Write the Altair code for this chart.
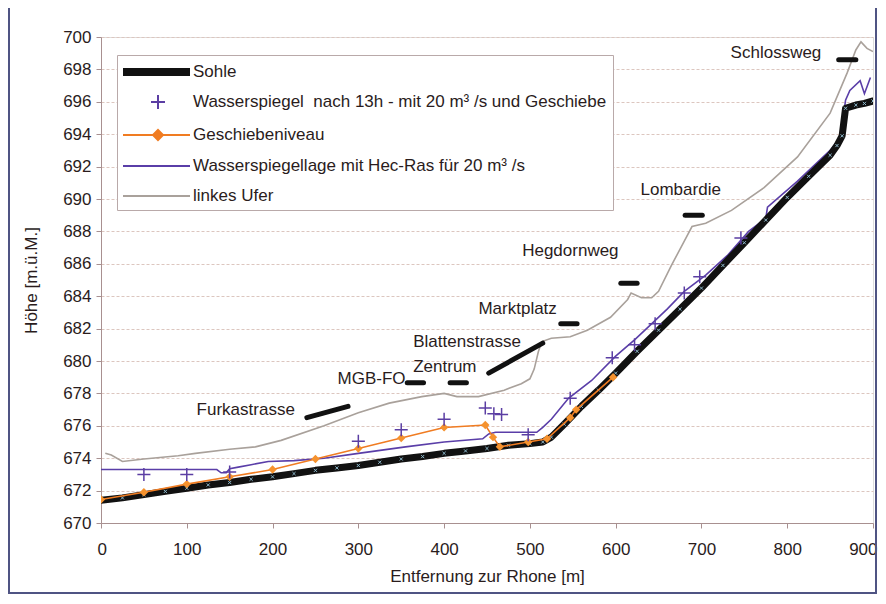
import altair as alt
import pandas as pd

# ---------------- data ----------------
series_names = [
    "Sohle",
    "Wasserspiegel\u00a0 nach 13h - mit 20 m³ /s und Geschiebe",
    "Geschiebeniveau",
    "Wasserspiegellage mit Hec-Ras für 20 m³ /s",
    "linkes Ufer",
]

sohle_x = [0, 25, 50, 75, 100, 125, 150, 175, 200, 225, 250, 275, 300, 325, 350, 375, 400,
           425, 450, 475, 500, 515, 525, 540, 560, 580, 600, 625, 650, 675, 700, 725, 750,
           775, 800, 825, 850, 858, 864, 868, 880, 890, 900]
sohle_y = [671.4, 671.55, 671.75, 671.95, 672.15, 672.35, 672.5, 672.7, 672.85, 673.05, 673.25,
           673.4, 673.55, 673.75, 673.95, 674.1, 674.3, 674.45, 674.6, 674.8, 674.9, 675.0,
           675.3, 676.1, 677.2, 678.2, 679.25, 680.6, 681.9, 683.2, 684.5, 685.9, 687.3,
           688.7, 690.1, 691.4, 692.7, 693.3, 693.9, 695.6, 695.8, 695.9, 696.05]

ws_x = [50, 100, 150, 300, 350, 400, 448, 458, 467, 498, 547, 596, 622, 646, 680, 698, 746]
ws_y = [673.0, 673.0, 673.15, 675.05, 675.75, 676.4, 677.1, 676.75, 676.7, 675.45, 677.7,
        680.2, 681.0, 682.3, 684.2, 685.2, 687.6]

gesch_x = [0, 50, 100, 150, 200, 250, 300, 350, 400, 448, 457, 465, 498, 520, 547, 554, 597]
gesch_y = [671.45, 671.9, 672.4, 672.85, 673.3, 673.95, 674.6, 675.25, 675.9, 676.05, 675.3,
           674.7, 675.0, 675.2, 676.5, 677.0, 679.0]

hec_x = [0, 135, 140, 146, 150, 160, 175, 195, 225, 260, 300, 355, 400, 445, 452, 460, 508,
         515, 525, 545, 572, 600, 622, 640, 660, 680, 705, 730, 755, 775, 777, 812, 850, 862,
         868, 873, 885, 890, 897]
hec_y = [673.3, 673.3, 673.1, 673.1, 673.35, 673.45, 673.6, 673.8, 673.85, 674.0, 674.3,
         674.7, 675.0, 675.2, 675.5, 675.6, 675.6, 675.9, 676.4, 677.7, 678.8, 680.3, 681.3,
         682.2, 683.2, 684.3, 685.3, 686.5, 688.0, 688.8, 689.5, 691.1, 693.0, 693.8, 696.1,
         696.7, 697.3, 696.5, 697.5]

ufer_x = [5, 12, 25, 50, 90, 110, 150, 180, 210, 260, 300, 336, 374, 400, 415, 440, 470, 490,
          500, 505, 510, 514, 525, 547, 567, 594, 614, 618, 630, 642, 650, 665, 680, 689, 705,
          735, 773, 812, 850, 870, 880, 886, 893, 900]
ufer_y = [674.3, 674.2, 673.8, 673.95, 674.15, 674.3, 674.55, 674.7, 675.1, 676.0, 676.8,
          677.4, 677.8, 678.0, 677.8, 677.8, 678.2, 678.6, 678.9, 679.5, 680.6, 681.2, 681.4,
          681.5, 681.9, 682.7, 683.8, 684.2, 683.9, 683.9, 684.3, 685.9, 687.4, 688.3, 688.5,
          689.3, 690.7, 692.6, 695.3, 697.8, 699.2, 699.7, 699.3, 699.1]

# street marks (segments) and their labels
street_names = ["Furkastrasse", "MGB-FO", "Zentrum", "Blattenstrasse", "Marktplatz",
                "Hegdornweg", "Lombardie", "Schlossweg"]
seg_x1 = [240, 357, 407, 452, 536, 606, 681, 860]
seg_x2 = [288, 376, 426, 515, 555, 625, 701, 880]
seg_y1 = [676.5, 678.65, 678.65, 679.25, 682.3, 684.8, 689.0, 698.6]
seg_y2 = [677.2, 678.65, 678.65, 681.1, 682.3, 684.8, 689.0, 698.6]
lab_x = [226, 355, 364, 364, 440, 491, 629, 734]
lab_y = [677.0, 678.9, 679.6, 681.2, 683.2, 686.8, 690.55, 699.0]
lab_align = ["right", "right", "left", "left", "left", "left", "left", "left"]

x_ticks = [0, 100, 200, 300, 400, 500, 600, 700, 800, 900]
y_ticks = [670, 672, 674, 676, 678, 680, 682, 684, 686, 688, 690, 692, 694, 696, 698, 700]

# ---------------- styles ----------------
series_colors = ["#111111", "#5b3ea3", "#f07c22", "#5a3ea8", "#a9a19b"]
legend_paths = [
    "M-1.1,-0.3H5.6M-1.1,-0.1H5.6M-1.1,0.1H5.6M-1.1,0.3H5.6",
    "M2.4,-0.7V0.7M1.7,0H3.1",
    "M-1.1,0H5.6M1.9,0L2.4,-0.5L2.9,0L2.4,0.5ZM2.15,0L2.4,-0.25L2.65,0L2.4,0.25Z",
    "M-1.1,0H5.6",
    "M-1.1,0H5.6",
]
FONT = "Liberation Sans"
TXT = "#2a1c1c"
FS = 17

sohle = pd.DataFrame({"x": sohle_x, "y": sohle_y})
ws = pd.DataFrame({"x": ws_x, "y": ws_y})
gesch = pd.DataFrame({"x": gesch_x, "y": gesch_y})
hec = pd.DataFrame({"x": hec_x, "y": hec_y})
ufer = pd.DataFrame({"x": ufer_x, "y": ufer_y})
streets = pd.DataFrame({"name": street_names, "x1": seg_x1, "x2": seg_x2, "y1": seg_y1,
                        "y2": seg_y2, "lx": lab_x, "ly": lab_y, "align": lab_align})
leg = pd.DataFrame({"series": series_names})

xs = alt.Scale(domain=[0, 900], nice=False, zero=False)
ys = alt.Scale(domain=[670, 700], nice=False, zero=False)

x_axis = alt.Axis(values=x_ticks, title="Entfernung zur Rhone [m]", grid=False,
                  labelFont=FONT, labelFontSize=FS, labelColor=TXT, titleFont=FONT,
                  titleFontSize=FS, titleFontWeight="normal", titleColor=TXT,
                  tickSize=5, labelPadding=13, titlePadding=11, domainColor="#a89090",
                  tickColor="#a89090", labelFlush=True, labelFlushOffset=4)
y_axis = alt.Axis(values=y_ticks, title="Höhe [m.ü.M.]", grid=True, gridDash=[3, 2],
                  gridColor="#dcc6bf", labelFont=FONT, labelFontSize=FS, labelColor=TXT,
                  titleFont=FONT, titleFontSize=FS, titleFontWeight="normal", titleColor=TXT,
                  tickSize=5, labelPadding=5, titlePadding=22, domainColor="#a89090",
                  tickColor="#a89090", labelFlush=False)


def X(f):
    return alt.X(f, type="quantitative", scale=xs, axis=x_axis)


def Y(f):
    return alt.Y(f, type="quantitative", scale=ys, axis=y_axis)


frame = alt.Chart(pd.DataFrame({"a": [0]})).mark_rect(
    fill="transparent", stroke="#4f5483", strokeWidth=2
).encode(x=alt.value(-92), x2=alt.value(775), y=alt.value(-30), y2=alt.value(556))

ufer_l = alt.Chart(ufer).mark_line(color="#a9a19b", strokeWidth=1.6, clip=True).encode(
    x=X("x"), y=Y("y"))

hec_l = alt.Chart(hec).mark_line(color="#5a3ea8", strokeWidth=1.6, clip=True).encode(
    x=X("x"), y=Y("y"))

sohle_l = alt.Chart(sohle).mark_line(color="#111111", strokeWidth=7, strokeCap="round",
                                     strokeJoin="round", clip=True).encode(
    x=X("x"), y=Y("y"))

sohle_p = alt.Chart(sohle).mark_point(shape="M-1,-1L1,1M-1,1L1,-1", filled=False,
                                      color="#9ccbe0", size=10, strokeWidth=1,
                                      opacity=0.9, clip=True).encode(
    x=X("x"), y=Y("y"))

gesch_l = alt.Chart(gesch).mark_line(color="#f07c22", strokeWidth=1.6, clip=True).encode(
    x=X("x"), y=Y("y"))

gesch_p = alt.Chart(gesch).mark_point(shape="diamond", filled=True, color="#f5922e",
                                      size=70, opacity=1, clip=True).encode(
    x=X("x"), y=Y("y"))

ws_p = alt.Chart(ws).mark_point(shape="M-1,0H1M0,-1V1", filled=False, color="#5b3ea3",
                                size=170, strokeWidth=1.5, opacity=1, clip=True).encode(
    x=X("x"), y=Y("y"))

seg = alt.Chart(streets).mark_rule(color="#111111", strokeWidth=5, strokeCap="round").encode(
    x=X("x1"), x2="x2:Q", y=Y("y1"), y2="y2:Q")

lab_r = alt.Chart(streets).transform_filter(alt.datum.align == "right").mark_text(
    align="right", baseline="middle", font=FONT, fontSize=FS, color=TXT).encode(
    x=X("lx"), y=Y("ly"), text="name:N")
lab_l = alt.Chart(streets).transform_filter(alt.datum.align == "left").mark_text(
    align="left", baseline="middle", font=FONT, fontSize=FS, color=TXT).encode(
    x=X("lx"), y=Y("ly"), text="name:N")

legend_def = alt.Legend(title=None, orient="none", legendX=16, legendY=18, padding=6,
                        strokeColor="#b9a9a9", fillColor="white", symbolSize=400,
                        symbolStrokeWidth=2, symbolOpacity=1, labelOffset=48,
                        rowPadding=11, labelFont=FONT, labelFontSize=FS, labelColor=TXT,
                        labelLimit=0)
legend_layer = alt.Chart(leg).mark_point(filled=False, opacity=0).encode(
    x=alt.value(0), y=alt.value(0),
    color=alt.Color("series:N", scale=alt.Scale(domain=series_names, range=series_colors),
                    legend=legend_def),
    shape=alt.Shape("series:N", scale=alt.Scale(domain=series_names, range=legend_paths),
                    legend=legend_def),
)

chart = alt.layer(
    frame, ufer_l, hec_l, sohle_l, sohle_p, gesch_l, gesch_p, ws_p, seg, lab_r, lab_l,
    legend_layer
).properties(
    width=772, height=486, autosize="none",
    padding={"left": 93, "top": 29, "right": 5, "bottom": 73},
).configure_view(stroke="#c9b7b0", strokeWidth=1).configure(background="white")

chart.save("out.html", embed_options={"renderer": "svg", "actions": False})
